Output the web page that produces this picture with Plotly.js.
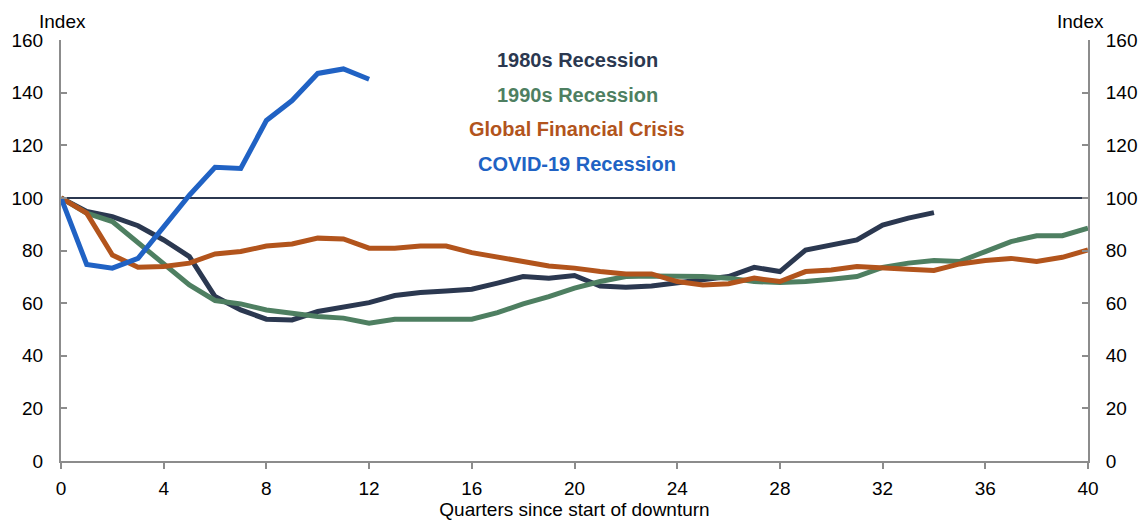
<!DOCTYPE html>
<html>
<head>
<meta charset="utf-8">
<script src="https://cdn.plot.ly/plotly-3.0.1.min.js"></script>
<style>
  html, body { margin: 0; padding: 0; background: #fff; }
  #chart { width: 1148px; height: 525px; }
</style>
</head>
<body>
<div id="chart"></div>
<script>
// quarters since start of downturn
const quarters = [];
for (var q = 0; q <= 40; q++) quarters.push(q);

// index values (start of downturn = 100)
const rec1980s = [100, 94.8, 92.9, 89.4, 84, 77.7, 62.5, 57.4, 53.9, 53.6, 56.8, 58.7, 60.2,
  62.9, 64, 64.6, 65.3, 67.6, 70.1, 69.5, 70.5, 66.5, 66, 66.5, 67.6, 68.8, 70.1, 73.6, 72,
  80.2, 82.1, 84, 89.7, 92.3, 94.4];
const rec1990s = [100, 94.2, 91, 82.8, 75.2, 66.9, 61, 59.7, 57.4, 56.2, 54.9, 54.3, 52.4,
  53.9, 53.9, 53.9, 53.9, 56.4, 59.7, 62.5, 65.7, 68.2, 70.1, 70.3, 70.3, 70.1, 69.5, 68.2,
  67.8, 68.2, 69.1, 70.1, 73.6, 75.2, 76.2, 75.8, 79.6, 83.4, 85.6, 85.6, 88.5];
const gfc = [100, 94.2, 78.3, 73.6, 73.9, 75.2, 78.7, 79.6, 81.7, 82.5, 84.7, 84.4, 80.9,
  80.9, 81.7, 81.7, 79.2, 77.7, 75.8, 74.1, 73.3, 72, 71.1, 71.1, 68.2, 66.9, 67.4, 69.5,
  68.2, 72, 72.6, 73.9, 73.6, 72.9, 72.4, 74.9, 76.2, 77, 75.8, 77.4, 80.2];
const covid = [100, 74.7, 73.3, 77, 89, 101, 111.6, 111.2, 129.4, 137, 147.3, 149, 145.1];

const seriesNames = ["1980s Recession", "1990s Recession", "Global Financial Crisis", "COVID-19 Recession"];
const seriesColors = ["#2b3850", "#4e7f61", "#b2541c", "#2062c4"];
const seriesData = [rec1980s, rec1990s, gfc, covid];
const labelY = [152.3, 139, 126, 112.7];

const yTicks = [0, 20, 40, 60, 80, 100, 120, 140, 160];
const xTicks = [0, 4, 8, 12, 16, 20, 24, 28, 32, 36, 40];

const FONT = "Liberation Sans, Arial";

var traces = seriesData.map(function (vals, i) {
  return {
    x: quarters.slice(0, vals.length),
    y: vals,
    mode: "lines",
    line: { color: seriesColors[i], width: 5 },
    name: seriesNames[i],
    hoverinfo: "skip"
  };
});
// invisible trace so the right axis is drawn
traces.push({ x: [0], y: [0], yaxis: "y2", mode: "markers", marker: { opacity: 0 }, showlegend: false, hoverinfo: "skip" });

var annotations = seriesNames.map(function (name, i) {
  return {
    x: 20.1, y: labelY[i], xref: "x", yref: "y",
    text: "<b>" + name + "</b>", showarrow: false,
    font: { family: FONT, size: 20, color: seriesColors[i] }
  };
});
annotations.push({
  x: 0.001, y: 1, xref: "paper", yref: "paper", xanchor: "center", yanchor: "bottom", yshift: 6,
  text: "Index", showarrow: false, font: { family: FONT, size: 19, color: "#000" }
});
annotations.push({
  x: 0.993, y: 1, xref: "paper", yref: "paper", xanchor: "center", yanchor: "bottom", yshift: 6,
  text: "Index", showarrow: false, font: { family: FONT, size: 19, color: "#000" }
});

var axisY = {
  range: [0, 160], tickvals: yTicks, ticks: "inside", ticklen: 6, tickwidth: 2,
  tickcolor: "#8c8c8c", showline: true, linecolor: "#8c8c8c", linewidth: 2,
  showgrid: false, zeroline: false, fixedrange: true, ticklabelstandoff: 12,
  tickfont: { family: FONT, size: 19, color: "#000" }
};

var layout = {
  width: 1148, height: 525,
  margin: { l: 61, r: 60, t: 40, b: 64 },
  paper_bgcolor: "#fff", plot_bgcolor: "#fff",
  showlegend: false,
  xaxis: {
    range: [0, 40], tickvals: xTicks, ticks: "outside", ticklen: 6, tickwidth: 2,
    tickcolor: "#8c8c8c", showline: true, linecolor: "#8c8c8c", linewidth: 2,
    showgrid: false, zeroline: false, ticklabelstandoff: 3,
    tickfont: { family: FONT, size: 19, color: "#000" },
    title: { text: "Quarters since start of downturn", standoff: 2,
      font: { family: FONT, size: 19, color: "#000" } }
  },
  yaxis: Object.assign({}, axisY, { side: "left" }),
  yaxis2: Object.assign({}, axisY, { side: "right", overlaying: "y" }),
  shapes: [{
    type: "line", xref: "paper", x0: 0, x1: 1, yref: "y", y0: 100, y1: 100,
    line: { color: "#2b3850", width: 2 }, layer: "below"
  }],
  annotations: annotations
};

Plotly.newPlot("chart", traces, layout, { displayModeBar: false, staticPlot: true });
</script>
</body>
</html>
